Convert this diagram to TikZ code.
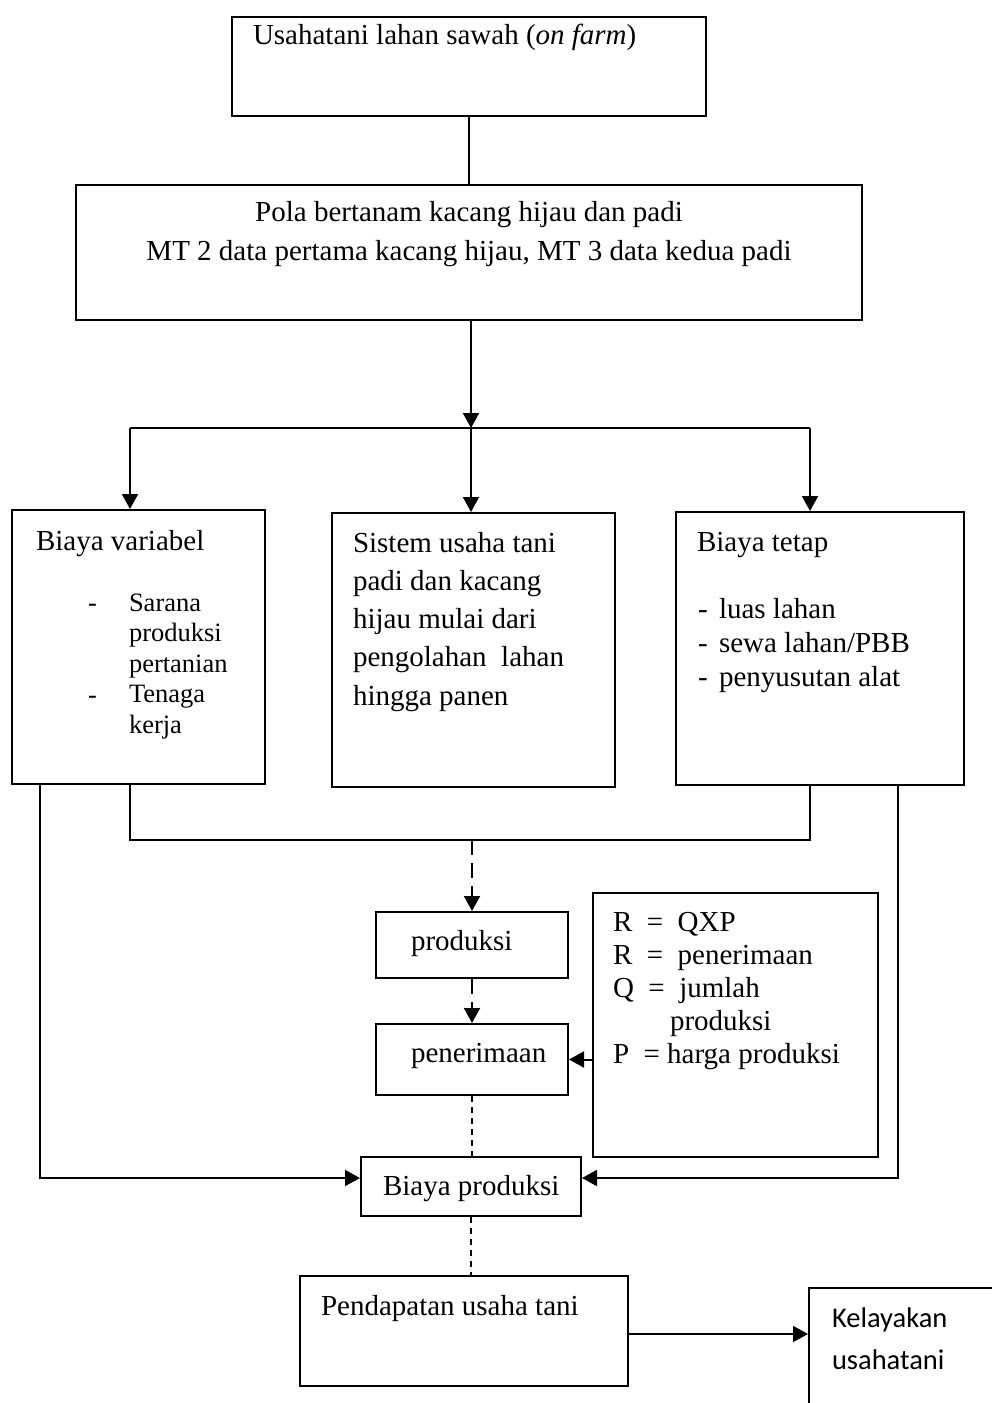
\documentclass[tikz,border=0pt]{standalone}
\usepackage{fontspec}
\setmainfont{Liberation Serif}
\newfontfamily\calibri{Carlito}
\usetikzlibrary{arrows.meta}

\begin{document}
\begin{tikzpicture}
  [x=1pt,y=-1pt,line width=2pt,
   every node/.style={inner sep=0pt,font=\fontsize{29}{38}\selectfont},
   box/.style={draw,line width=2pt},
   txt/.style={anchor=base west},
   small/.style={font=\fontsize{26.5}{30}\selectfont},
   arr/.style={-{Triangle[length=15pt,width=16pt]}},
   dashA/.style={dash pattern=on 15pt off 8pt},
   dashB/.style={line width=1.5pt,dash pattern=on 6pt off 5pt}]
  \useasboundingbox (0,0) rectangle (992,1403);
  \clip (0,0) rectangle (992,1403);

  % boxes
  \node[box,minimum width=474pt,minimum height=99pt] (farm) at (469,66) {};
  \node[box,minimum width=786pt,minimum height=135pt] (pola) at (469,252) {};
  \node[box,minimum width=253pt,minimum height=274pt] (var) at (138.5,647) {};
  \node[box,minimum width=283pt,minimum height=274pt] (sistem) at (473.5,650) {};
  \node[box,minimum width=288pt,minimum height=273pt] (tetap) at (820,648.5) {};
  \node[box,minimum width=192pt,minimum height=66pt] (prod) at (472,945) {};
  \node[box,minimum width=192pt,minimum height=71pt] (terima) at (472,1059.5) {};
  \node[box,minimum width=285pt,minimum height=264pt] (rumus) at (735.5,1025) {};
  \node[box,minimum width=220pt,minimum height=59pt] (biaya) at (471,1186.5) {};
  \node[box,minimum width=328pt,minimum height=110pt] (pend) at (464,1331) {};
  \node[box,minimum width=211pt,minimum height=142pt] (layak) at (914.5,1359) {};

  % texts
  \node[txt] (farmtxt) at (252,44) {Usahatani lahan sawah (\textit{on farm})};
  \node[anchor=base] (pola1) at (469,221) {Pola bertanam kacang hijau dan padi};
  \node[anchor=base] (pola2) at (469,260) {MT 2 data pertama kacang hijau, MT 3 data kedua padi};

  \node[txt] (vartitle) at (35,550) {Biaya variabel};
  \node[txt,small] (vardash1) at (87,611) {-};
  \node[txt,small] (vardash2) at (87,703) {-};
  \foreach \t [count=\i] in {Sarana,produksi,pertanian,Tenaga,kerja}
    \node[txt,small] (var\i) at (128,{611+30.5*(\i-1)}) {\t};

  \foreach \t [count=\i] in {Sistem usaha tani,padi dan kacang,hijau mulai dari,pengolahan\ \ lahan,hingga panen}
    \node[txt] (sis\i) at (352,{552+38.3*(\i-1)}) {\t};

  \node[txt] (tetaptitle) at (696,551) {Biaya tetap};
  \foreach \t [count=\i] in {luas lahan,sewa lahan/PBB,penyusutan alat} {
    \node[txt] (tetapdash\i) at (697,{618+34*(\i-1)}) {-};
    \node[txt] (tetap\i) at (718,{618+34*(\i-1)}) {\t};
  }

  \node[txt] (prodtxt) at (410,950) {produksi};
  \node[txt] (terimatxt) at (410,1062) {penerimaan};
  \node[txt] (biayatxt) at (382,1195) {Biaya produksi};
  \node[txt] (pendtxt) at (320,1315) {Pendapatan usaha tani};

  \node[txt] (r1) at (612,931) {R\ \ =\ \ QXP};
  \node[txt] (r2) at (612,964) {R\ \ =\ \ penerimaan};
  \node[txt] (r3) at (612,997) {Q\ \ =\ \ jumlah};
  \node[txt] (r4) at (669,1030) {produksi};
  \node[txt] (r5) at (612,1063) {P\ \ = harga produksi};

  \node[txt,font=\calibri\fontsize{28.5}{40}\selectfont] (layak1) at (831,1327) {Kelayakan};
  \node[txt,font=\calibri\fontsize{28.5}{40}\selectfont] (layak2) at (831,1369) {usahatani};

  % connectors
  \draw (farm) -- (pola);
  \coordinate (split) at (471,428);
  \coordinate (splitL) at (130,428);
  \coordinate (splitR) at (810,428);
  \draw[arr] (pola.south -| split) -- (split);
  \draw (splitL) -- (splitR);
  \draw[arr] (splitL) -- (splitL |- var.north);
  \draw[arr] (split) -- (split |- sistem.north);
  \draw[arr] (splitR) -- (splitR |- tetap.north);

  \coordinate (joinL) at (130,840);
  \coordinate (joinR) at (810,840);
  \coordinate (join) at (472,840);
  \draw (var.south -| joinL) -- (joinL) -- (joinR) -- (tetap.south -| joinR);
  \draw[arr,dashA] (join) -- (prod.north);
  \draw[arr,dashA] (prod) -- (terima);
  \draw[dashB] (terima.south) -- (terima.south |- biaya.north);
  \draw[dashB] (biaya.south) -- (biaya.south |- pend.north);

  \coordinate (sideL) at (40,1178);
  \coordinate (sideR) at (898,1178);
  \draw[arr] (var.south -| sideL) -- (sideL) -- (sideL -| biaya.west);
  \draw[arr] (tetap.south -| sideR) -- (sideR) -- (sideR -| biaya.east);
  \draw[arr] (terima.east -| rumus.west) -- (terima.east);

  \coordinate (out) at (628,1334);
  \draw[arr] (out) -- (out -| layak.west);
\end{tikzpicture}
\end{document}
